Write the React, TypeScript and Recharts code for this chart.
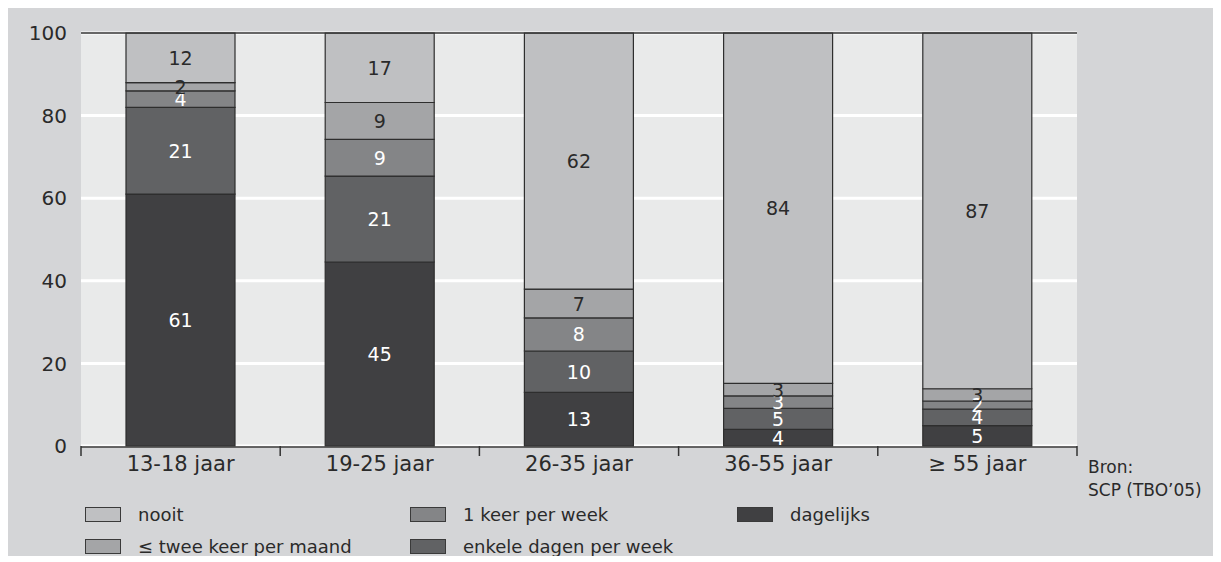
import React from "react";
import { BarChart, Bar, XAxis, YAxis, CartesianGrid, ReferenceLine, LabelList } from "recharts";

const categories = ["13-18 jaar", "19-25 jaar", "26-35 jaar", "36-55 jaar", "≥ 55 jaar"];
const dagelijks = [61, 45, 13, 4, 5];
const enkeleDagen = [21, 21, 10, 5, 4];
const eenKeer = [4, 9, 8, 3, 2];
const tweeKeer = [2, 9, 7, 3, 3];
const nooit = [12, 17, 62, 84, 87];
const yTicks = [0, 0.2, 0.4, 0.6, 0.8, 1];
const boundaryTicks = [0, 1, 2, 3, 4, 5];

const series = [
  { key: "dagelijks", name: "dagelijks", values: dagelijks, fill: "#404042", text: "#ffffff" },
  { key: "enkele", name: "enkele dagen per week", values: enkeleDagen, fill: "#616264", text: "#ffffff" },
  { key: "eenKeer", name: "1 keer per week", values: eenKeer, fill: "#848587", text: "#ffffff" },
  { key: "tweeKeer", name: "≤ twee keer per maand", values: tweeKeer, fill: "#a4a5a7", text: "#2a2a2a" },
  { key: "nooit", name: "nooit", values: nooit, fill: "#bfc0c2", text: "#2a2a2a" },
];

const data = categories.map((c, i) => {
  const row: any = { cat: c, pos: i + 0.5 };
  series.forEach((s) => (row[s.key] = s.values[i]));
  return row;
});

const legendCols = [["nooit", "tweeKeer"], ["eenKeer", "enkele"], ["dagelijks"]];
const colLeft = [77, 402, 729];
const rowTop = [498, 530];

const FONT = "'DejaVu Sans', sans-serif";
const W = 1205;
const H = 548;

function makeLabel(values: number[], color: string) {
  return (props: any) => {
    const { x, y, width, height, index } = props;
    return (
      <text
        x={Number(x) + Number(width) / 2}
        y={Number(y) + Number(height) / 2}
        textAnchor="middle"
        dominantBaseline="central"
        fill={color}
        fontSize={19}
        fontFamily={FONT}
      >
        {values[index]}
      </text>
    );
  };
}

const EmptyTick = () => <g />;

export default function App() {
  return (
    <div style={{ position: "relative", width: W, height: H, background: "#d4d5d7", fontFamily: FONT }}>
      <BarChart
        width={W}
        height={H}
        data={data}
        stackOffset="expand"
        margin={{ top: 25, right: 136, left: 0, bottom: 69 }}
        barSize={109}
      >
        <CartesianGrid vertical={false} fill="#e9eaea" stroke="#ffffff" strokeWidth={3} yAxisId="y" xAxisId="b" />
        <XAxis
          xAxisId="a"
          type="number"
          dataKey="pos"
          domain={[0, 5]}
          ticks={boundaryTicks}
          height={1}
          tick={EmptyTick}
          axisLine={false}
          tickLine={{ stroke: "#333", strokeWidth: 1.5 }}
          tickSize={10}
        />
        <XAxis
          xAxisId="b"
          dataKey="cat"
          height={40}
          axisLine={{ stroke: "#333", strokeWidth: 1.5 }}
          tickLine={false}
          tickSize={0}
          tickMargin={9}
          tick={{ fill: "#2a2a2a", fontSize: 21, fontFamily: FONT }}
        />
        <YAxis
          yAxisId="y"
          width={73}
          domain={[0, 1]}
          ticks={yTicks}
          tickFormatter={(v: number) => String(Math.round(v * 100))}
          axisLine={false}
          tickLine={false}
          tickSize={0}
          tickMargin={14}
          tick={{ fill: "#2a2a2a", fontSize: 20, fontFamily: FONT }}
        />
        {series.map((s) => (
          <Bar
            key={s.key}
            dataKey={s.key}
            name={s.name}
            stackId="a"
            xAxisId="b"
            yAxisId="y"
            fill={s.fill}
            stroke="#2e2e2e"
            strokeWidth={1.2}
            isAnimationActive={false}
          >
            <LabelList dataKey={s.key} content={makeLabel(s.values, s.text)} />
          </Bar>
        ))}
        <ReferenceLine y={1} yAxisId="y" xAxisId="b" stroke="#333" strokeWidth={1.5} />
      </BarChart>

      {legendCols.map((col, ci) =>
        col.map((key, ri) => {
          const s = series.find((x) => x.key === key)!;
          return (
            <div
              key={key}
              style={{
                position: "absolute",
                left: colLeft[ci],
                top: rowTop[ri],
                height: 16,
                display: "flex",
                alignItems: "center",
                whiteSpace: "nowrap",
              }}
            >
              <div
                style={{
                  width: 34,
                  height: 13,
                  background: s.fill,
                  border: "1.5px solid #3a3a3a",
                  marginRight: 17,
                }}
              />
              <span style={{ fontSize: 18, color: "#2a2a2a" }}>{s.name}</span>
            </div>
          );
        })
      )}

      <div style={{ position: "absolute", left: 1080, top: 448, fontSize: 17, color: "#2a2a2a", lineHeight: "23px" }}>
        Bron:
        <br />
        SCP (TBO’05)
      </div>
    </div>
  );
}
